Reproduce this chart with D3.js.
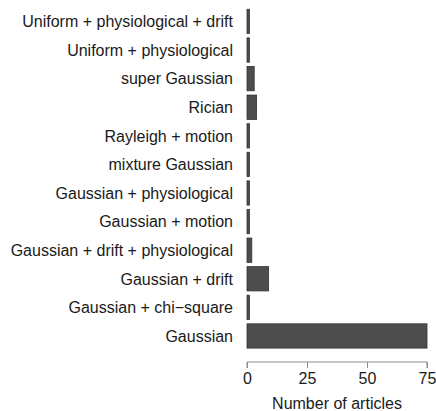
<!DOCTYPE html>
<html>
<head>
<meta charset="utf-8">
<script src="https://cdn.jsdelivr.net/npm/d3@7"></script>
<style>
  body { margin: 0; background: #fff; }
  svg { display: block; }
</style>
</head>
<body>
<div id="app"></div>
<script>
// data, top to bottom as drawn
const categories = [
  'Uniform + physiological + drift',
  'Uniform + physiological',
  'super Gaussian',
  'Rician',
  'Rayleigh + motion',
  'mixture Gaussian',
  'Gaussian + physiological',
  'Gaussian + motion',
  'Gaussian + drift + physiological',
  'Gaussian + drift',
  'Gaussian + chi\u2212square',
  'Gaussian',
];
const articleCounts = [1, 1, 3, 4, 1, 1, 1, 1, 2, 9, 1, 75];
const xTicks = [0, 25, 50, 75];
const xTitle = 'Number of articles';

const width = 436;
const height = 411;
const margin = {
  top: 5, right: 9, bottom: 58, left: 247,
};
const fontSize = 16;
const barFill = '#4d4d4d';
const barStroke = '#333333';
const textColor = '#1a1a1a';
const axisColor = '#8c8c8c';

const rows = categories.map((c, i) => ({ label: c, value: articleCounts[i] }));

const svg = d3.select('#app')
  .append('svg')
  .attr('width', width)
  .attr('height', height)
  .style('font-family', '"Liberation Sans", Arial, Helvetica, sans-serif');

const xScale = d3.scaleLinear()
  .domain([0, 75])
  .range([margin.left, margin.left + 180]);

const yScale = d3.scaleBand()
  .domain(categories)
  .range([margin.top, 352.4])
  .paddingInner(0.15)
  .paddingOuter(0.15);

// bars
svg.append('g')
  .selectAll('rect')
  .data(rows)
  .enter()
  .append('rect')
  .attr('x', xScale(0))
  .attr('y', d => yScale(d.label))
  .attr('width', d => xScale(d.value) - xScale(0))
  .attr('height', yScale.bandwidth())
  .attr('fill', barFill)
  .attr('stroke', barStroke)
  .attr('stroke-width', 0.8);

// category labels (no axis line on y)
svg.append('g')
  .selectAll('text')
  .data(rows)
  .enter()
  .append('text')
  .attr('x', margin.left - 14)
  .attr('y', d => yScale(d.label) + yScale.bandwidth() / 2)
  .attr('dy', '0.36em')
  .attr('text-anchor', 'end')
  .attr('font-size', fontSize)
  .attr('fill', textColor)
  .text(d => d.label);

// x axis, range frame style
const xAxis = svg.append('g')
  .attr('transform', 'translate(0,362)')
  .call(d3.axisBottom(xScale).tickValues(xTicks).tickSize(6).tickPadding(5));

xAxis.select('.domain')
  .attr('d', `M${xScale(0)},6V0H${xScale(75)}V6`)
  .attr('stroke', axisColor);
xAxis.selectAll('.tick line').attr('stroke', axisColor);
xAxis.selectAll('.tick text')
  .attr('font-size', fontSize)
  .attr('font-family', '"Liberation Sans", Arial, sans-serif')
  .attr('fill', textColor);

svg.append('text')
  .attr('x', (xScale(0) + xScale(75)) / 2)
  .attr('y', 409)
  .attr('text-anchor', 'middle')
  .attr('font-size', fontSize)
  .attr('fill', textColor)
  .text(xTitle);
</script>
</body>
</html>
